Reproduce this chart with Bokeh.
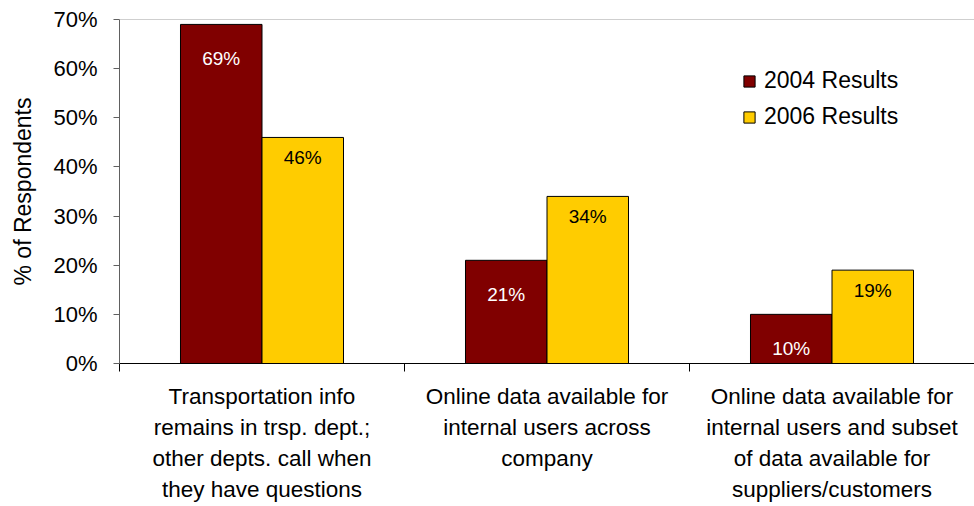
from bokeh.plotting import figure
from bokeh.models import (Range1d, FixedTicker, PrintfTickFormatter, Span,
                          Legend, LegendItem, ColumnDataSource)
from bokeh.core.properties import value
from bokeh.embed import file_html
from bokeh.resources import INLINE

# ---- data ----
categories = [
    "Transportation info\nremains in trsp. dept.;\nother depts. call when\nthey have questions",
    "Online data available for\ninternal users across\ncompany",
    "Online data available for\ninternal users and subset\nof data available for\nsuppliers/customers",
]
series_names = ["2004 Results", "2006 Results"]
results_2004 = [69, 21, 10]
results_2006 = [46, 34, 19]
y_ticks = [0, 10, 20, 30, 40, 50, 60, 70]

colors = ["#800000", "#FFCC00"]
label_colors = ["white", "black"]
label_offsets = [34, 20]

FONT = "Liberation Sans"

p = figure(width=974, height=506, output_backend="svg", toolbar_location=None,
           x_range=Range1d(0, len(categories)), y_range=Range1d(0, 70),
           min_border_left=119, min_border_right=0, min_border_top=19,
           min_border_bottom=143)
p.outline_line_color = None
p.xgrid.visible = False
p.ygrid.visible = False
p.background_fill_color = "white"
p.border_fill_color = "white"

bar_w = 0.286
offsets = [-0.143, 0.143]
legend_items = []
for k, vals in enumerate([results_2004, results_2006]):
    xs = [i + 0.5 + offsets[k] for i in range(len(categories))]
    src = ColumnDataSource(dict(x=xs, top=vals, lab=[f"{v}%" for v in vals]))
    r = p.vbar(x="x", top="top", bottom=0, width=bar_w, source=src,
               fill_color=colors[k], line_color="black", line_width=1)
    p.text(x="x", y="top", text="lab", source=src, text_align="center",
           text_baseline="middle", y_offset=label_offsets[k],
           text_color=label_colors[k], text_font=value(FONT),
           text_font_size="19px")
    legend_items.append(LegendItem(label=series_names[k], renderers=[r]))

# top border line
p.add_layout(Span(location=70, dimension="width", line_color="#a0a0a0", line_width=1))

# x axis
xa = p.xaxis[0]
xa.ticker = FixedTicker(ticks=[i + 0.5 for i in range(len(categories))],
                        minor_ticks=list(range(len(categories) + 1)))
xa.major_label_overrides = {i + 0.5: c for i, c in enumerate(categories)}
xa.major_tick_out = 0
xa.major_tick_in = 0
xa.minor_tick_out = 8
xa.minor_tick_in = 0
xa.minor_tick_line_color = "black"
xa.axis_line_color = "black"
xa.major_label_text_font = FONT
xa.major_label_text_font_size = "22.5px"
xa.major_label_text_color = "black"
xa.major_label_text_line_height = 1.24
xa.major_label_standoff = 12

# y axis
ya = p.yaxis[0]
ya.ticker = FixedTicker(ticks=y_ticks)
ya.formatter = PrintfTickFormatter(format="%d%%")
ya.minor_tick_line_color = None
ya.major_tick_out = 6
ya.major_tick_in = 0
ya.axis_line_color = "#606060"
ya.major_tick_line_color = "#606060"
ya.major_label_text_font = FONT
ya.major_label_text_font_size = "22px"
ya.major_label_text_color = "black"
ya.major_label_standoff = 16
ya.axis_label = "% of Respondents"
ya.axis_label_text_font = FONT
ya.axis_label_text_font_size = "23px"
ya.axis_label_text_font_style = "normal"
ya.axis_label_text_color = "black"
ya.axis_label_standoff = 14

legend = Legend(items=legend_items, location=(623, 233), orientation="vertical",
                label_text_font=FONT, label_text_font_size="23px",
                label_text_color="black", glyph_width=14, glyph_height=14,
                label_height=24, spacing=9, padding=0, margin=0,
                border_line_color=None, background_fill_alpha=0,
                label_standoff=8)
p.add_layout(legend)

open("out.html", "w").write(file_html(p, INLINE))
